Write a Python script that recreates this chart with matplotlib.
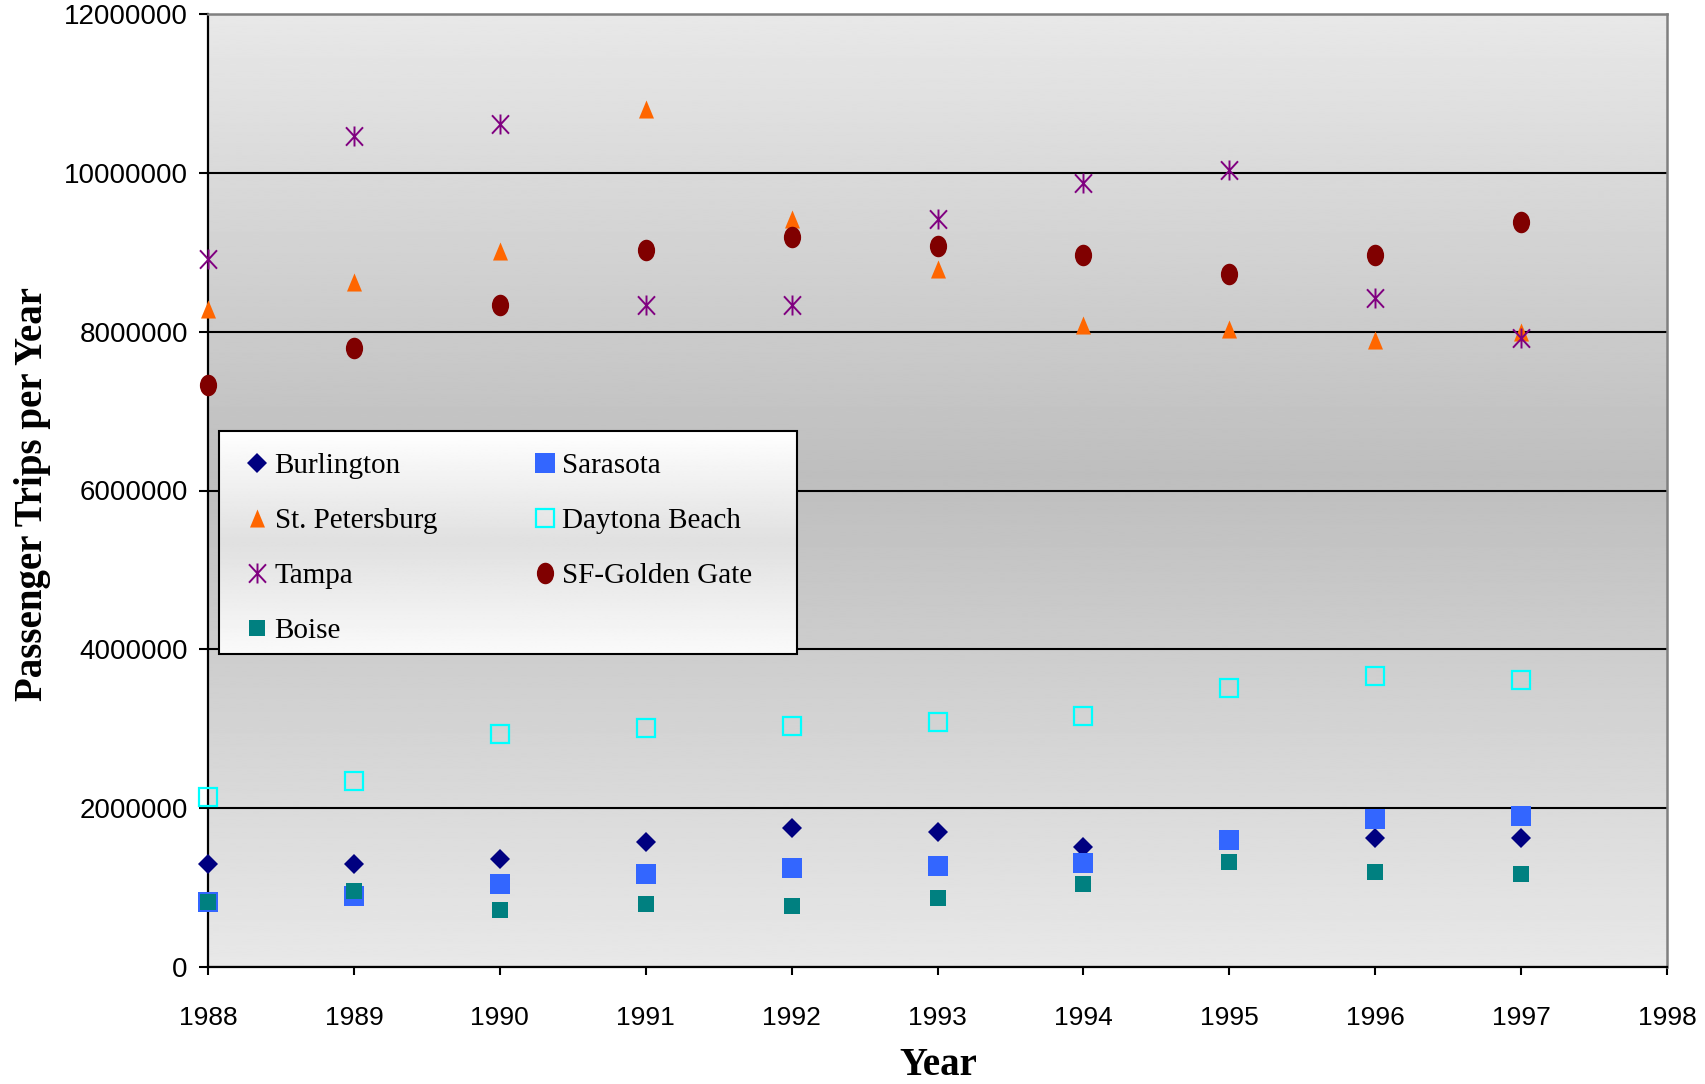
import numpy as np
import matplotlib
matplotlib.use("Agg")
import matplotlib.pyplot as plt
from matplotlib.path import Path
from matplotlib.transforms import Affine2D
from matplotlib.patches import Rectangle

# ---- data -------------------------------------------------------------
years = [1988, 1989, 1990, 1991, 1992, 1993, 1994, 1995, 1996, 1997]

burlington = [1300000, 1300000, 1360000, 1570000, 1750000, 1700000, 1510000, np.nan, 1620000, 1620000]
sarasota = [820000, 890000, 1050000, 1170000, 1250000, 1270000, 1310000, 1600000, 1860000, 1900000]
st_petersburg = [8290000, 8620000, 9010000, 10810000, 9420000, 8790000, 8080000, 8030000, 7890000, 8000000]
daytona_beach = [2140000, 2340000, 2930000, 3010000, 3040000, 3090000, 3160000, 3510000, 3660000, 3620000]
tampa = [8920000, 10470000, 10620000, 8340000, 8330000, 9420000, 9870000, 10040000, 8430000, 7920000]
sf_golden_gate = [7330000, 7790000, 8330000, 9030000, 9190000, 9080000, 8970000, 8730000, 8960000, 9380000]
boise = [820000, 960000, 720000, 790000, 770000, 870000, 1040000, 1320000, 1190000, 1170000]

x_ticks = [1988, 1989, 1990, 1991, 1992, 1993, 1994, 1995, 1996, 1997, 1998]
x_tick_labels = ["1988", "1989", "1990", "1991", "1992", "1993", "1994", "1995", "1996", "1997", "1998"]
y_ticks = [0, 2000000, 4000000, 6000000, 8000000, 10000000, 12000000]
y_tick_labels = ["0", "2000000", "4000000", "6000000", "8000000", "10000000", "12000000"]

# ---- custom marker shapes ---------------------------------------------
ellipse = Path.unit_circle().transformed(Affine2D().scale(0.8, 1.0))
tall_triangle = Path([(0, 1), (-0.83, -1), (0.83, -1), (0, 1)],
                     [Path.MOVETO, Path.LINETO, Path.LINETO, Path.CLOSEPOLY])
asterisk = Path([(0, -1), (0, 1), (-0.85, -0.92), (0.85, 0.92), (-0.85, 0.92), (0.85, -0.92)],
                [Path.MOVETO, Path.LINETO, Path.MOVETO, Path.LINETO, Path.MOVETO, Path.LINETO])

# ---- figure -----------------------------------------------------------
fig = plt.figure(figsize=(17.06, 10.84), dpi=100)
fig.patch.set_facecolor("white")
ax = fig.add_axes([208 / 1706, 1 - 967 / 1084, (1667 - 208) / 1706, (967 - 14) / 1084])

# plot-area shading: light at top and bottom, darker band in the middle
yy = np.linspace(0, 12000000, 600)
shade = np.interp(yy, [0, 6200000, 12000000], [232, 190, 232]) / 255.0
ax.imshow(shade[:, None], extent=[1988, 1998, 0, 12000000], origin="lower",
          aspect="auto", cmap="gray", vmin=0, vmax=1, zorder=0, interpolation="bilinear")

common = dict(linestyle="none", clip_on=False, zorder=3)
h_bur, = ax.plot(years, burlington, marker="D", ms=10.6, color="#000080", mew=0, label="Burlington", **common)
h_sar, = ax.plot(years, sarasota, marker="s", ms=14.4, color="#3366FF", mew=0, label="Sarasota", **common)
h_stp, = ax.plot(years, st_petersburg, marker=tall_triangle, ms=13, color="#FF6600", mew=0,
                 label="St. Petersburg", **common)
h_day, = ax.plot(years, daytona_beach, marker="s", ms=13.5, markerfacecolor="none",
                 markeredgecolor="#00FFFF", mew=1.6, label="Daytona Beach", **common)
h_tam, = ax.plot(years, tampa, marker=asterisk, ms=14.4, markerfacecolor="none",
                 markeredgecolor="#800080", mew=1.4, label="Tampa", **common)
h_sf, = ax.plot(years, sf_golden_gate, marker=ellipse, ms=15.5, color="#800000", mew=0,
                label="SF-Golden Gate", **common)
h_boi, = ax.plot(years, boise, marker="s", ms=12.2, color="#008080", mew=0, label="Boise", **common)

ax.set_xlim(1988, 1998)
ax.set_ylim(0, 12000000)

# grid and spines
ax.set_axisbelow(True)
ax.yaxis.grid(True, color="black", linewidth=1.5)
ax.xaxis.grid(False)
for side in ["left", "bottom"]:
    ax.spines[side].set_color("black")
    ax.spines[side].set_linewidth(1.6)
for side in ["top", "right"]:
    ax.spines[side].set_color("#808080")
    ax.spines[side].set_linewidth(1.8)

ax.set_xticks(x_ticks)
ax.set_xticklabels(x_tick_labels, fontfamily="Liberation Sans", fontsize=19)
ax.set_yticks(y_ticks)
ax.set_yticklabels(y_tick_labels, fontfamily="Liberation Sans", fontsize=20)
ax.tick_params(axis="x", direction="out", length=6, width=1.5, pad=22)
ax.tick_params(axis="y", direction="out", length=6.5, width=1.5, pad=8)

fig.text(33 / 1706, 1 - 494 / 1084, "Passenger Trips per Year", rotation=90,
         ha="center", va="center", fontfamily="Liberation Serif", fontweight="bold", fontsize=28)
fig.text(938 / 1706, 1 - 1075 / 1084, "Year", ha="center", va="baseline",
         fontfamily="Liberation Serif", fontweight="bold", fontsize=28)

# legend box with a soft vertical gradient
box_x0, box_y0, box_w, box_h = 0.0075, 0.3284, 0.3962, 0.2340
fy = np.linspace(0, 1, 200)
lshade = np.interp(fy, [0, 0.5, 1], [250, 224, 255]) / 255.0
ax.imshow(lshade[:, None], extent=[box_x0, box_x0 + box_w, box_y0, box_y0 + box_h],
          transform=ax.transAxes, origin="lower", aspect="auto", cmap="gray",
          vmin=0, vmax=1, zorder=4, interpolation="bilinear")
ax.add_patch(Rectangle((box_x0, box_y0), box_w, box_h, transform=ax.transAxes,
                       facecolor="none", edgecolor="black", linewidth=1.5, zorder=4.5))
ax.set_xlim(1988, 1998)
ax.set_ylim(0, 12000000)

handles = [h_bur, h_stp, h_tam, h_boi, h_sar, h_day, h_sf]
leg = ax.legend(handles=handles, ncol=2, loc="upper left", bbox_to_anchor=(0.0236, 0.5399),
                frameon=False, borderpad=0, borderaxespad=0, handlelength=1.0,
                handletextpad=0.1, labelspacing=0.98, columnspacing=3.2,
                prop={"family": "Liberation Serif", "size": 21})
leg.set_zorder(5)

fig.savefig("out.png", dpi=100)
